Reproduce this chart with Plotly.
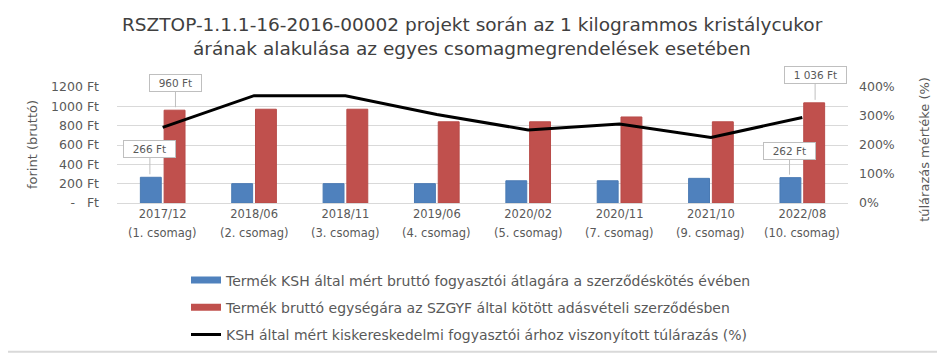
import plotly.graph_objects as go

periods = ["2017/12", "2018/06", "2018/11", "2019/06", "2020/02", "2020/11", "2021/10", "2022/08"]
packages = ["(1. csomag)", "(2. csomag)", "(3. csomag)", "(4. csomag)", "(5. csomag)",
            "(7. csomag)", "(9. csomag)", "(10. csomag)"]
ksh_price = [266, 200, 200, 200, 230, 230, 255, 262]
contract_price = [960, 970, 970, 840, 840, 890, 840, 1036]
overpricing_pct = [261, 370, 370, 305, 252, 272, 226, 295]
left_ticks = [0, 200, 400, 600, 800, 1000, 1200]
left_tick_text = ["-   Ft", "200 Ft", "400 Ft", "600 Ft", "800 Ft", "1000 Ft", "1200 Ft"]
right_ticks = [0, 100, 200, 300, 400]
right_tick_text = ["0%", "100%", "200%", "300%", "400%"]

names = ["Termék KSH által mért bruttó fogyasztói átlagára a szerződéskötés évében",
         "Termék bruttó egységára az SZGYF által kötött adásvételi szerződésben",
         "KSH által mért kiskereskedelmi fogyasztói árhoz viszonyított túlárazás (%)"]
title_lines = ["RSZTOP-1.1.1-16-2016-00002 projekt során az 1 kilogrammos kristálycukor",
               "árának alakulása az egyes csomagmegrendelések esetében"]

categories = [p + " " + k for p, k in zip(periods, packages)]

FONT = "DejaVu Sans"
GREY = "#595959"
BLUE = "#4f81bd"
RED = "#c0504d"

# the page body has an 8px margin: the figure is sized so it ends at the window edge
PAGE_OFF = 8
W, H = 945 - PAGE_OFF, 363 - PAGE_OFF

fig = go.Figure()
fig.add_trace(go.Bar(x=categories, y=ksh_price, name=names[0], marker_color=BLUE,
                     marker_line=dict(color="#4a7ab3", width=1), showlegend=False, yaxis="y"))
fig.add_trace(go.Bar(x=categories, y=contract_price, name=names[1], marker_color=RED,
                     marker_line=dict(color="#b84b48", width=1), showlegend=False, yaxis="y"))
fig.add_trace(go.Scatter(x=categories, y=overpricing_pct, name=names[2], mode="lines",
                         line=dict(color="black", width=3), showlegend=False, yaxis="y2"))
# legend entries (wide swatches like the original)
for nm, col, w, grp in [(names[0], BLUE, 7, "a"), (names[1], RED, 7, "b"), (names[2], "black", 3, "c")]:
    fig.add_trace(go.Scatter(x=[None], y=[None], mode="lines", name=nm,
                             line=dict(color=col, width=w), legendgroup=grp, yaxis="y"))

# second line of category labels
for cat, pk in zip(categories, packages):
    fig.add_annotation(x=cat, xref="x", yref="paper", y=(207 - 238) / 120, text=pk,
                       showarrow=False, xanchor="center", yanchor="middle",
                       font=dict(family=FONT, size=11.5, color=GREY))

# callout labels
callouts = [
    (0, ksh_price[0], "266 Ft", -0.14, -28),
    (0, contract_price[0], "960 Ft", 0.14, -27),
    (7, ksh_price[7], "262 Ft", -0.14, -27),
    (7, contract_price[7], "1 036 Ft", 0.14, -28),
]
for i, val, txt, off, ay in callouts:
    fig.add_annotation(x=i + off, y=val, xref="x", yref="y",
                       text="&nbsp;&nbsp;" + txt + "&nbsp;&nbsp;",
                       showarrow=True, arrowhead=0, arrowwidth=1, arrowcolor="#bfbfbf",
                       standoff=3, ax=0, ay=ay, bgcolor="white", bordercolor="#bfbfbf",
                       borderwidth=1, borderpad=2, font=dict(family=FONT, size=10.5, color=GREY))

# title
fig.add_annotation(text=title_lines[0], xref="paper", yref="paper", x=(472 - 117) / 731,
                   y=(207 - 22) / 120, xanchor="center", yanchor="middle", showarrow=False,
                   font=dict(family=FONT, size=18.5, color="#404040"))
fig.add_annotation(text=title_lines[1], xref="paper", yref="paper", x=(472 - 117) / 731,
                   y=(207 - 47) / 120, xanchor="center", yanchor="middle", showarrow=False,
                   font=dict(family=FONT, size=18.5, color="#404040"))
# axis titles
fig.add_annotation(text="forint (bruttó)", xref="paper", yref="paper", x=(32 - 117) / 731,
                   y=(207 - 147) / 120, xanchor="center", yanchor="middle", showarrow=False,
                   textangle=-90, font=dict(family=FONT, size=13, color=GREY))
fig.add_annotation(text="túlárazás mértéke (%)", xref="paper", yref="paper", x=(925 - 117) / 731,
                   y=(207 - 152) / 120, xanchor="center", yanchor="middle", showarrow=False,
                   textangle=-90, font=dict(family=FONT, size=13, color=GREY))

fig.update_layout(
    width=W, height=H,
    margin=dict(l=117 - PAGE_OFF, r=97, t=87 - PAGE_OFF, b=156),
    paper_bgcolor="white", plot_bgcolor="white",
    font=dict(family=FONT, color=GREY, size=12),
    barmode="group", bargap=0.48, bargroupgap=0.12,
    xaxis=dict(type="category", tickvals=categories, ticktext=periods,
               tickfont=dict(size=11.5, color=GREY), showgrid=False,
               showline=True, linecolor="#d9d9d9", ticks="", automargin=False),
    yaxis=dict(range=[0, 1200], tickvals=left_ticks, ticktext=left_tick_text,
               showgrid=True, gridcolor="#d9d9d9", gridwidth=1, zeroline=False,
               tickfont=dict(size=12.5, color=GREY), ticklabelstandoff=17, automargin=False),
    yaxis2=dict(range=[0, 400], tickvals=right_ticks, ticktext=right_tick_text,
                overlaying="y", side="right", showgrid=False, zeroline=False,
                tickfont=dict(size=12.5, color=GREY), ticklabelstandoff=10, automargin=False),
    legend=dict(orientation="v", x=(186 - 117) / 731, xanchor="left", y=-0.53, yanchor="top",
                font=dict(family=FONT, size=14, color=GREY), tracegroupgap=6,
                bgcolor="rgba(0,0,0,0)"),
)
# outer frame (right and bottom edges fall inside the figure)
fig.add_shape(type="rect", xref="paper", yref="paper",
              x0=-116/731, x1=1 + 95/731, y0=-154/120, y1=1 + 86/120,
              line=dict(color="#d9d9d9", width=2))

fig.write_html("out.html", config={"displayModeBar": False})
